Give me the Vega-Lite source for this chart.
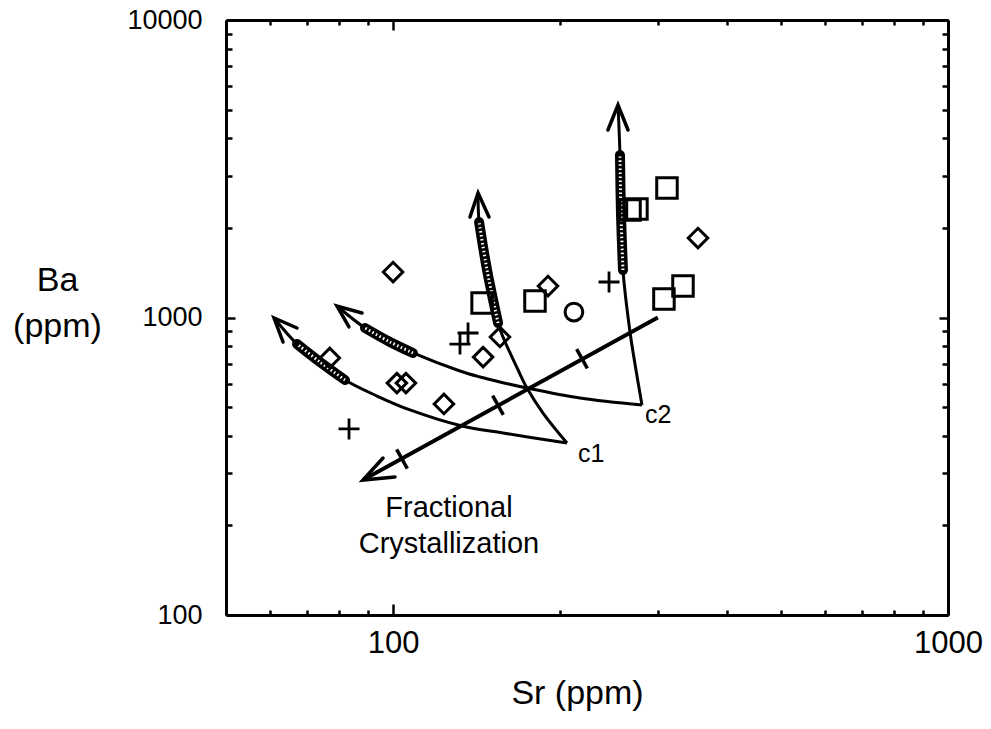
{
  "$schema": "https://vega.github.io/schema/vega-lite/v6.json",
  "width": 722,
  "height": 595,
  "autosize": {"type": "none"},
  "padding": {"left": 226, "top": 20, "right": 43, "bottom": 114},
  "background": "white",
  "config": {"view": {"stroke": null}, "axis": {"grid": false}},
  "datasets": {
    "pts": [
      {"sr": 76.9, "ba": 731, "type": "diamond"},
      {"sr": 101.6, "ba": 602, "type": "diamond"},
      {"sr": 105.5, "ba": 602, "type": "diamond"},
      {"sr": 123.5, "ba": 512, "type": "diamond"},
      {"sr": 145.3, "ba": 736, "type": "diamond"},
      {"sr": 155.8, "ba": 860, "type": "diamond"},
      {"sr": 190.2, "ba": 1276, "type": "diamond"},
      {"sr": 354.4, "ba": 1850, "type": "diamond"},
      {"sr": 100.0, "ba": 1422, "type": "diamond"},
      {"sr": 144.7, "ba": 1118, "type": "square"},
      {"sr": 180.2, "ba": 1136, "type": "square"},
      {"sr": 311.6, "ba": 2724, "type": "square"},
      {"sr": 267.3, "ba": 2298, "type": "square"},
      {"sr": 275.1, "ba": 2316, "type": "square"},
      {"sr": 307.7, "ba": 1154, "type": "square"},
      {"sr": 333.0, "ba": 1276, "type": "square"},
      {"sr": 132.0, "ba": 814, "type": "cross"},
      {"sr": 136.5, "ba": 887, "type": "cross"},
      {"sr": 83.3, "ba": 422, "type": "cross"},
      {"sr": 245.0, "ba": 1316, "type": "cross"},
      {"sr": 211.8, "ba": 1043, "type": "circle"}
    ],
    "segs": [
      {"id": "c1L", "k": "curve", "o": 1, "sr": 205.8, "ba": 378.6},
      {"id": "c1L", "k": "curve", "o": 2, "sr": 157.8, "ba": 409.0},
      {"id": "c1L", "k": "curve", "o": 3, "sr": 133.1, "ba": 431.8},
      {"id": "c1L", "k": "curve", "o": 4, "sr": 107.3, "ba": 488.9},
      {"id": "c1L", "k": "curve", "o": 5, "sr": 93.56, "ba": 544.6},
      {"id": "c1L", "k": "curve", "o": 6, "sr": 81.92, "ba": 616.5},
      {"id": "c1L", "k": "curve", "o": 7, "sr": 73.85, "ba": 708.7},
      {"id": "c1L", "k": "curve", "o": 8, "sr": 67.13, "ba": 814.6},
      {"id": "c1L", "k": "curve", "o": 9, "sr": 61.03, "ba": 996},
      {"id": "c1V", "k": "curve", "o": 1, "sr": 205.8, "ba": 378.6},
      {"id": "c1V", "k": "curve", "o": 2, "sr": 186.3, "ba": 477.5},
      {"id": "c1V", "k": "curve", "o": 3, "sr": 174.3, "ba": 579.4},
      {"id": "c1V", "k": "curve", "o": 4, "sr": 168.0, "ba": 666.1},
      {"id": "c1V", "k": "curve", "o": 5, "sr": 157.8, "ba": 860.1},
      {"id": "c1V", "k": "curve", "o": 6, "sr": 154.6, "ba": 958.3},
      {"id": "c1V", "k": "curve", "o": 7, "sr": 147.7, "ba": 1444},
      {"id": "c1V", "k": "curve", "o": 8, "sr": 142.9, "ba": 2094},
      {"id": "c1V", "k": "curve", "o": 9, "sr": 142.3, "ba": 2621},
      {"id": "c2L", "k": "curve", "o": 1, "sr": 280.9, "ba": 508.0},
      {"id": "c2L", "k": "curve", "o": 2, "sr": 217.2, "ba": 536.3},
      {"id": "c2L", "k": "curve", "o": 3, "sr": 174.3, "ba": 579.4},
      {"id": "c2L", "k": "curve", "o": 4, "sr": 155.8, "ba": 607.1},
      {"id": "c2L", "k": "curve", "o": 5, "sr": 143.5, "ba": 631.0},
      {"id": "c2L", "k": "curve", "o": 6, "sr": 132.0, "ba": 661.1},
      {"id": "c2L", "k": "curve", "o": 7, "sr": 108.6, "ba": 759.8},
      {"id": "c2L", "k": "curve", "o": 8, "sr": 98.74, "ba": 827.3},
      {"id": "c2L", "k": "curve", "o": 9, "sr": 89.01, "ba": 922.0},
      {"id": "c2L", "k": "curve", "o": 10, "sr": 79.25, "ba": 1093},
      {"id": "c2V", "k": "curve", "o": 1, "sr": 280.9, "ba": 508.0},
      {"id": "c2V", "k": "curve", "o": 2, "sr": 274.0, "ba": 666.1},
      {"id": "c2V", "k": "curve", "o": 3, "sr": 267.3, "ba": 893.9},
      {"id": "c2V", "k": "curve", "o": 4, "sr": 259.6, "ba": 1444},
      {"id": "c2V", "k": "curve", "o": 5, "sr": 257.5, "ba": 2211},
      {"id": "c2V", "k": "curve", "o": 6, "sr": 256.4, "ba": 3517},
      {"id": "c2V", "k": "curve", "o": 7, "sr": 254.3, "ba": 5180},
      {"id": "a1a", "k": "arrow", "o": 1, "sr": 67.13, "ba": 922.0},
      {"id": "a1a", "k": "arrow", "o": 2, "sr": 61.03, "ba": 996},
      {"id": "a1a", "k": "arrow", "o": 3, "sr": 63.35, "ba": 827.3},
      {"id": "a2a", "k": "arrow", "o": 1, "sr": 87.90, "ba": 1035},
      {"id": "a2a", "k": "arrow", "o": 2, "sr": 79.25, "ba": 1093},
      {"id": "a2a", "k": "arrow", "o": 3, "sr": 83.28, "ba": 929.2},
      {"id": "a3a", "k": "arrow", "o": 1, "sr": 137.6, "ba": 2177},
      {"id": "a3a", "k": "arrow", "o": 2, "sr": 142.3, "ba": 2621},
      {"id": "a3a", "k": "arrow", "o": 3, "sr": 148.9, "ba": 2177},
      {"id": "a4a", "k": "arrow", "o": 1, "sr": 243.9, "ba": 4268},
      {"id": "a4a", "k": "arrow", "o": 2, "sr": 254.3, "ba": 5180},
      {"id": "a4a", "k": "arrow", "o": 3, "sr": 265.1, "ba": 4268},
      {"id": "a5a", "k": "arrow", "o": 1, "sr": 95.92, "ba": 337.1},
      {"id": "a5a", "k": "arrow", "o": 2, "sr": 88.25, "ba": 284.3},
      {"id": "a5a", "k": "arrow", "o": 3, "sr": 100.8, "ba": 291.0},
      {"id": "fc", "k": "fc", "o": 1, "sr": 300, "ba": 1000},
      {"id": "fc", "k": "fc", "o": 2, "sr": 88.25, "ba": 284.3},
      {"id": "t1", "k": "tick", "o": 1, "sr": 214.2, "ba": 783.1},
      {"id": "t1", "k": "tick", "o": 2, "sr": 223.9, "ba": 674.8},
      {"id": "t2", "k": "tick", "o": 1, "sr": 151.2, "ba": 546.4},
      {"id": "t2", "k": "tick", "o": 2, "sr": 158.0, "ba": 470.9},
      {"id": "t3", "k": "tick", "o": 1, "sr": 101.5, "ba": 360.2},
      {"id": "t3", "k": "tick", "o": 2, "sr": 106.1, "ba": 310.5}
    ],
    "hatch": [
      {"id": "h1", "o": 1, "sr": 81.92, "ba": 616.5},
      {"id": "h1", "o": 2, "sr": 73.85, "ba": 708.7},
      {"id": "h1", "o": 3, "sr": 67.13, "ba": 814.6},
      {"id": "h2", "o": 1, "sr": 108.6, "ba": 759.8},
      {"id": "h2", "o": 2, "sr": 98.74, "ba": 827.3},
      {"id": "h2", "o": 3, "sr": 89.01, "ba": 922.0},
      {"id": "h3", "o": 1, "sr": 154.6, "ba": 958.3},
      {"id": "h3", "o": 2, "sr": 147.7, "ba": 1444},
      {"id": "h3", "o": 3, "sr": 142.9, "ba": 2094},
      {"id": "h4", "o": 1, "sr": 259.6, "ba": 1444},
      {"id": "h4", "o": 2, "sr": 257.5, "ba": 2211},
      {"id": "h4", "o": 3, "sr": 256.4, "ba": 3517}
    ],
    "labels": [
      {"sr": 215.4, "ba": 326.8, "t": "c1", "g": "c"},
      {"sr": 284.4, "ba": 441.9, "t": "c2", "g": "c"},
      {"sr": 126.1, "ba": 213.5, "t": "Fractional\nCrystallization", "g": "f"}
    ]
  },
  "layer": [
    {
      "encoding": {
        "x": {
          "field": "sr", "type": "quantitative",
          "scale": {"type": "log", "domain": [50, 1000], "nice": false},
          "axis": {
            "orient": "bottom",
            "values": [50, 60, 70, 80, 90, 100, 200, 300, 400, 500, 600, 700, 800, 900, 1000],
            "format": "d",
            "labelExpr": "datum.value == 100 || datum.value == 1000 ? datum.label : ''",
            "tickSize": {"condition": {"test": "datum.value == 100 || datum.value == 1000", "value": -11}, "value": -5},
            "tickWidth": 2.5, "tickColor": "black",
            "domainColor": "black", "domainWidth": 3,
            "labelFont": "Liberation Sans", "labelFontSize": 31, "labelColor": "black",
            "labelPadding": 24, "labelFlush": false, "labelOverlap": false,
            "title": "Sr (ppm)", "titleFont": "Liberation Sans", "titleFontSize": 34,
            "titleFontWeight": "normal", "titleColor": "black",
            "titleX": 351, "titleY": 88, "titleBaseline": "alphabetic", "titleAlign": "center",
            "grid": false
          }
        },
        "y": {
          "field": "ba", "type": "quantitative",
          "scale": {"type": "log", "domain": [100, 10000], "nice": false},
          "axis": {
            "orient": "left",
            "values": [100, 200, 300, 400, 500, 600, 700, 800, 900, 1000, 2000, 3000, 4000, 5000, 6000, 7000, 8000, 9000, 10000],
            "format": "d",
            "labelExpr": "datum.value == 100 || datum.value == 1000 || datum.value == 10000 ? datum.label : ''",
            "tickSize": {"condition": {"test": "datum.value == 100 || datum.value == 1000 || datum.value == 10000", "value": -9}, "value": -6},
            "tickWidth": 2.5, "tickColor": "black",
            "domainColor": "black", "domainWidth": 3,
            "labelFont": "Liberation Sans", "labelFontSize": 27, "labelColor": "black",
            "labelPadding": 33, "labelFlush": false, "labelOverlap": false, "labelBaseline": "middle",
            "title": ["Ba", "(ppm)"], "titleFont": "Liberation Sans", "titleFontSize": 34,
            "titleFontWeight": "normal", "titleColor": "black", "titleAngle": 0,
            "titleX": -169, "titleY": 270, "titleAlign": "center", "titleBaseline": "alphabetic",
            "titleLineHeight": 46,
            "grid": false
          }
        }
      },
      "layer": [
        {
          "data": {"name": "segs"},
          "transform": [{"filter": "datum.k == 'curve'"}],
          "mark": {"type": "line", "color": "black", "strokeWidth": 3, "interpolate": "catmull-rom"},
          "encoding": {"detail": {"field": "id"}, "order": {"field": "o", "type": "quantitative"}}
        },
        {
          "data": {"name": "hatch"},
          "mark": {"type": "line", "color": "black", "strokeWidth": 10, "strokeCap": "round", "interpolate": "catmull-rom"},
          "encoding": {"detail": {"field": "id"}, "order": {"field": "o", "type": "quantitative"}}
        },
        {
          "data": {"name": "hatch"},
          "mark": {"type": "line", "color": "white", "strokeWidth": 3, "strokeDash": [1.5, 2.5], "interpolate": "catmull-rom"},
          "encoding": {"detail": {"field": "id"}, "order": {"field": "o", "type": "quantitative"}}
        },
        {
          "data": {"name": "segs"},
          "transform": [{"filter": "datum.k == 'fc'"}],
          "mark": {"type": "line", "color": "black", "strokeWidth": 4},
          "encoding": {"detail": {"field": "id"}, "order": {"field": "o", "type": "quantitative"}}
        },
        {
          "data": {"name": "segs"},
          "transform": [{"filter": "datum.k == 'tick'"}],
          "mark": {"type": "line", "color": "black", "strokeWidth": 3.5},
          "encoding": {"detail": {"field": "id"}, "order": {"field": "o", "type": "quantitative"}}
        },
        {
          "data": {"name": "segs"},
          "transform": [{"filter": "datum.k == 'arrow'"}],
          "mark": {"type": "line", "color": "black", "strokeWidth": 3.5, "strokeJoin": "miter", "strokeCap": "round"},
          "encoding": {"detail": {"field": "id"}, "order": {"field": "o", "type": "quantitative"}}
        },
        {
          "data": {"name": "pts"},
          "transform": [{"filter": "datum.type == 'diamond'"}],
          "mark": {"type": "point", "shape": "diamond", "filled": false, "color": "black", "strokeWidth": 3, "size": 380, "opacity": 1}
        },
        {
          "data": {"name": "pts"},
          "transform": [{"filter": "datum.type == 'square'"}],
          "mark": {"type": "point", "shape": "square", "filled": false, "color": "black", "strokeWidth": 3, "size": 420, "opacity": 1}
        },
        {
          "data": {"name": "pts"},
          "transform": [{"filter": "datum.type == 'cross'"}],
          "mark": {"type": "point", "shape": "M-1,0H1M0,-1V1", "filled": false, "color": "black", "strokeWidth": 2.8, "size": 441, "opacity": 1}
        },
        {
          "data": {"name": "pts"},
          "transform": [{"filter": "datum.type == 'circle'"}],
          "mark": {"type": "point", "shape": "circle", "filled": false, "color": "black", "strokeWidth": 3, "size": 314, "opacity": 1}
        },
        {
          "data": {"name": "labels"},
          "transform": [{"filter": "datum.g == 'c'"}],
          "mark": {"type": "text", "font": "Liberation Sans", "fontSize": 25, "align": "left", "baseline": "alphabetic", "color": "black"},
          "encoding": {"text": {"field": "t"}}
        },
        {
          "data": {"name": "labels"},
          "transform": [{"filter": "datum.g == 'f'"}],
          "mark": {"type": "text", "font": "Liberation Sans", "fontSize": 29, "align": "center", "baseline": "alphabetic", "color": "black", "lineBreak": "\n", "lineHeight": 36},
          "encoding": {"text": {"field": "t"}}
        }
      ]
    },
    {
      "data": {"name": "pts"},
      "mark": {"type": "point", "opacity": 0},
      "encoding": {
        "x": {
          "field": "sr", "type": "quantitative",
          "scale": {"type": "log", "domain": [50, 1000], "nice": false},
          "axis": {
            "orient": "top",
            "values": [50, 60, 70, 80, 90, 100, 200, 300, 400, 500, 600, 700, 800, 900, 1000],
            "labels": false,
            "tickSize": {"condition": {"test": "datum.value == 100 || datum.value == 1000", "value": -10}, "value": -5},
            "tickWidth": 2.5, "tickColor": "black",
            "domainColor": "black", "domainWidth": 3,
            "title": null, "grid": false
          }
        },
        "y": {
          "field": "ba", "type": "quantitative",
          "scale": {"type": "log", "domain": [100, 10000], "nice": false},
          "axis": {
            "orient": "right",
            "values": [100, 200, 300, 400, 500, 600, 700, 800, 900, 1000, 2000, 3000, 4000, 5000, 6000, 7000, 8000, 9000, 10000],
            "labels": false,
            "tickSize": {"condition": {"test": "datum.value == 100 || datum.value == 1000 || datum.value == 10000", "value": -9}, "value": -6},
            "tickWidth": 2.5, "tickColor": "black",
            "domainColor": "black", "domainWidth": 3,
            "title": null, "grid": false
          }
        }
      }
    }
  ],
  "resolve": {"axis": {"x": "independent", "y": "independent"}}
}
